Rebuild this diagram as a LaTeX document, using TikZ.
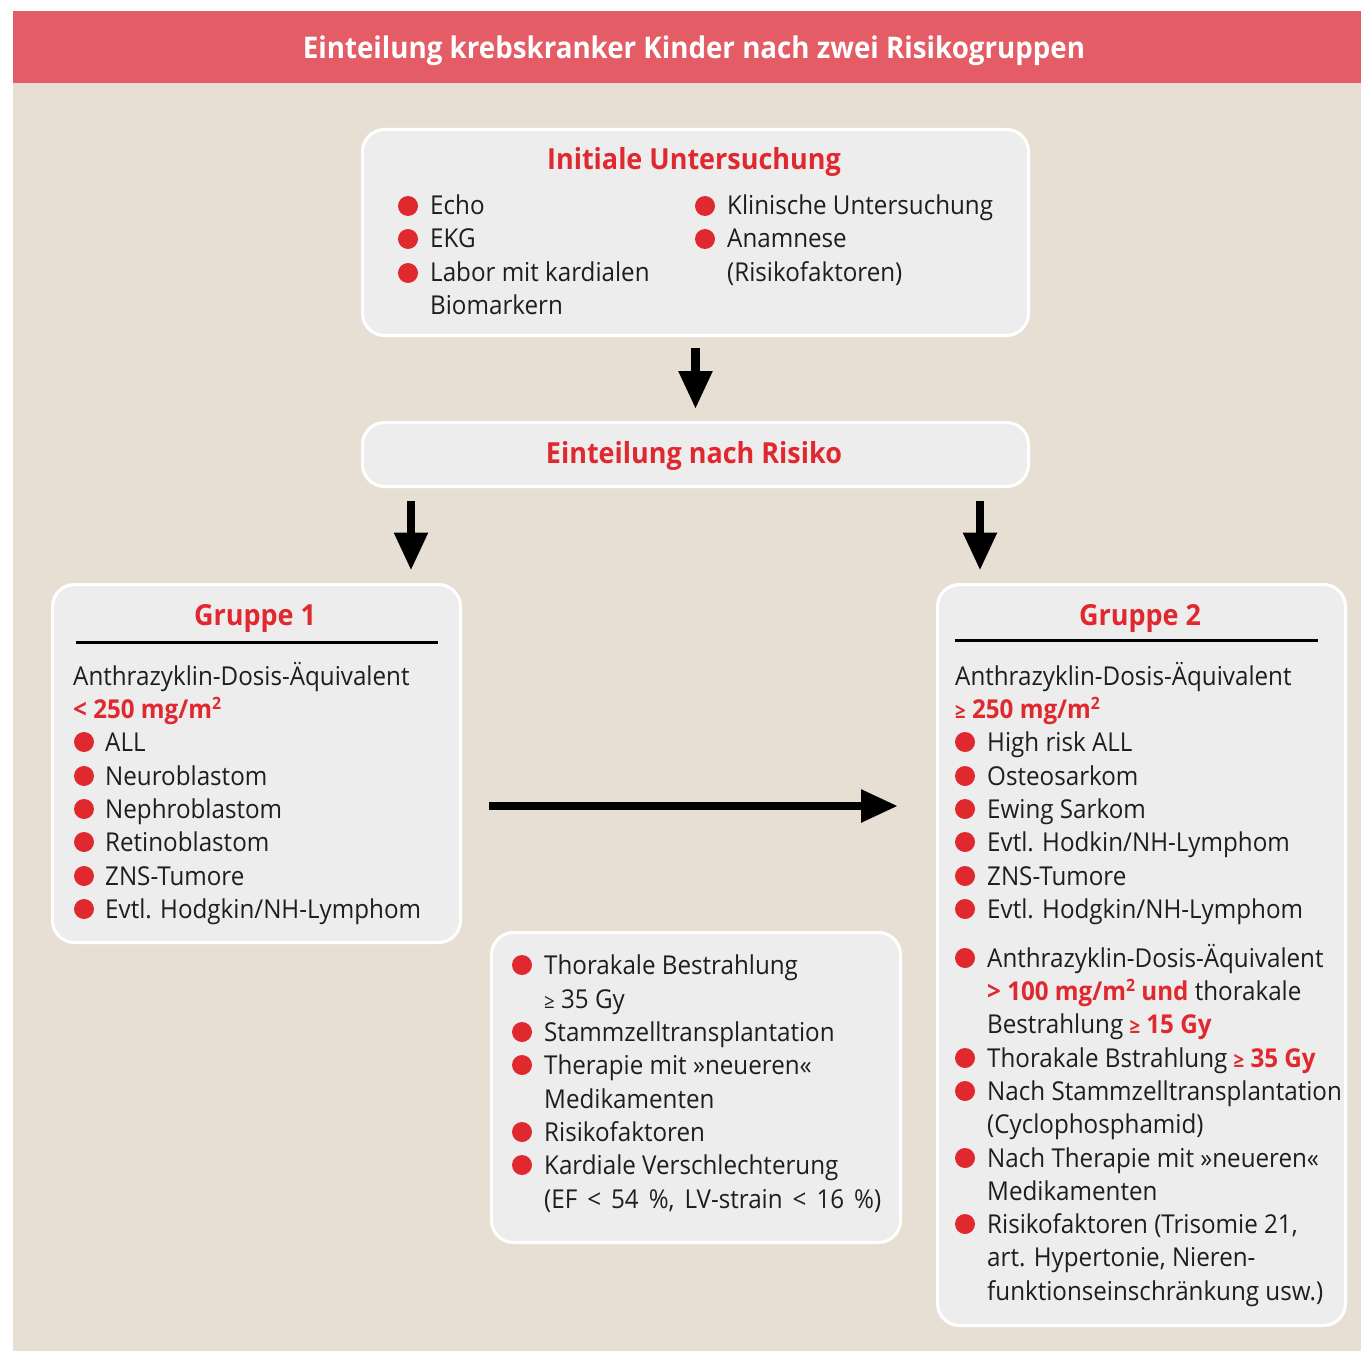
\documentclass[tikz,border=0pt]{standalone}
\usepackage{fontspec}
\setmainfont[FakeStretch=0.93]{Open Sans}
\usetikzlibrary{arrows.meta}
\definecolor{hdr}{HTML}{E35C66}
\definecolor{bg}{HTML}{E8DFD4}
\definecolor{boxf}{HTML}{EDEDED}
\definecolor{rd}{HTML}{E0282F}
\definecolor{tx}{HTML}{1E1E1E}
\tikzset{
  panel/.style={draw=white, line width=3pt, fill=boxf, rounded corners=22pt, inner sep=0pt, anchor=north west},
  txt/.style={anchor=base west, inner sep=0pt, font=\fontsize{26}{30}\selectfont, text=tx},
  ttl/.style={anchor=base, inner sep=0pt, font=\fontsize{29}{34}\selectfont\bfseries, text=rd},
  bul/.style={circle, fill=rd, minimum size=20pt, inner sep=0pt},
  arr/.style={line width=8.5pt, -{Triangle[length=38pt, width=32pt]}},
  rule/.style={line width=3pt, black},
}
\newcommand{\rb}[1]{\textcolor{rd}{\bfseries #1}}
\newcommand{\sqr}{\raisebox{9pt}{\fontsize{17}{17}\selectfont 2}}
\newcommand{\gez}{{\fontsize{20}{20}\selectfont ≥}}
\begin{document}
\begin{tikzpicture}[x=1pt, y=-1pt]
\useasboundingbox (0,0) rectangle (1361,1351);
\fill[white] (0,0) rectangle (1361,1351);
\fill[bg] (13,83) rectangle (1361,1351);
\node[fill=hdr, minimum width=1348pt, minimum height=72pt, inner sep=0pt, anchor=north west] (banner) at (13,11) {};
\node[anchor=base, inner sep=0pt, font=\fontsize{29.8}{34}\selectfont\bfseries, text=white] (hd) at (694,59) {Einteilung krebskranker Kinder nach zwei Risikogruppen};

% panels
\node[panel, minimum width=666pt, minimum height=206pt] (init) at (361,128) {};
\node[panel, minimum width=666pt, minimum height=64pt] (risk) at (361,421) {};
\node[panel, minimum width=408pt, minimum height=358pt] (g1) at (51,583) {};
\node[panel, minimum width=408pt, minimum height=741pt] (g2) at (936,583) {};
\node[panel, minimum width=409pt, minimum height=310pt] (mid) at (490,931) {};

% titles
\node[ttl] (t1) at (694,170) {Initiale Untersuchung};
\node[ttl] (t2) at (694,463) {Einteilung nach Risiko};
\node[ttl] (t3) at (255,625) {Gruppe 1};
\node[ttl] (t4) at (1140,625) {Gruppe 2};
\draw[rule] (76,642) -- (438,642);
\draw[rule] (955,640) -- (1318,640);

% initial box
\node[bul] (ib1) at (408,206) {};
\node[bul] (ib2) at (408,239) {};
\node[bul] (ib3) at (408,273) {};
\node[txt] (il1) at (430,215) {Echo};
\node[txt] (il2) at (430,248) {EKG};
\node[txt] (il3) at (430,282) {Labor mit kardialen};
\node[txt] (il4) at (430,315) {Biomarkern};
\node[bul] (ib4) at (705,206) {};
\node[bul] (ib5) at (705,239) {};
\node[txt] (ir1) at (727,215) {Klinische Untersuchung};
\node[txt] (ir2) at (727,248) {Anamnese};
\node[txt] (ir3) at (727,282) {(Risikofaktoren)};

% Gruppe 1
\node[txt] (a1) at (73,685) {Anthrazyklin-Dosis-Äquivalent};
\node[txt] (a2) at (73,718) {\rb{< 250 mg/m\sqr}};
\foreach \y/\t [count=\i] in {742/{ALL}, 776/{Neuroblastom}, 809/{Nephroblastom}, 842/{Retinoblastom}, 876/{ZNS-Tumore}, 909/{Evtl. Hodgkin/NH-Lymphom}}{
  \node[bul] (gb\i) at (84,\y) {};
  \node[txt] (gt\i) at (105,\y+9) {\t};
}

% Gruppe 2
\node[txt] (c1) at (955,685) {Anthrazyklin-Dosis-Äquivalent};
\node[txt] (c2) at (955,718) {\rb{\gez\ 250 mg/m\sqr}};
\foreach \y/\t [count=\i] in {742/{High risk ALL}, 776/{Osteosarkom}, 809/{Ewing Sarkom}, 842/{Evtl. Hodkin/NH-Lymphom}, 876/{ZNS-Tumore}, 909/{Evtl. Hodgkin/NH-Lymphom}}{
  \node[bul] (hb\i) at (965,\y) {};
  \node[txt] (ht\i) at (987,\y+9) {\t};
}
\node[bul] (hb7) at (965,958) {};
\node[txt] (hx1) at (987,967) {Anthrazyklin-Dosis-Äquivalent};
\node[txt] (hx2) at (987,1000) {\rb{> 100 mg/m\sqr\ und} thorakale};
\node[txt] (hx3) at (987,1033) {Bestrahlung \rb{\gez\ 15 Gy}};
\node[bul] (hb8) at (965,1058) {};
\node[txt] (hx4) at (987,1067) {Thorakale Bstrahlung \rb{\gez\ 35 Gy}};
\node[bul] (hb9) at (965,1091) {};
\node[txt] (hx5) at (987,1100) {Nach Stammzelltransplantation};
\node[txt] (hx6) at (987,1133) {(Cyclophosphamid)};
\node[bul] (hb10) at (965,1158) {};
\node[txt] (hx7) at (987,1167) {Nach Therapie mit »neueren«};
\node[txt] (hx8) at (987,1200) {Medikamenten};
\node[bul] (hb11) at (965,1224) {};
\node[txt] (hx9) at (987,1233) {Risikofaktoren (Trisomie 21,};
\node[txt] (hx10) at (987,1266) {art. Hypertonie, Nieren-};
\node[txt] (hx11) at (987,1300) {funktionseinschränkung usw.)};

% middle box
\node[bul] (mb1) at (522,965) {};
\node[txt] (m1) at (544,974) {Thorakale Bestrahlung};
\node[txt] (m2) at (544,1008) {\gez\ 35 Gy};
\node[bul] (mb2) at (522,1032) {};
\node[txt] (m3) at (544,1041) {Stammzelltransplantation};
\node[bul] (mb3) at (522,1065) {};
\node[txt] (m4) at (544,1074) {Therapie mit »neueren«};
\node[txt] (m5) at (544,1108) {Medikamenten};
\node[bul] (mb4) at (522,1132) {};
\node[txt] (m6) at (544,1141) {Risikofaktoren};
\node[bul] (mb5) at (522,1165) {};
\node[txt] (m7) at (544,1174) {Kardiale Verschlechterung};
\node[txt] (m8) at (544,1208) {\spaceskip=10pt (EF < 54 \%, LV-strain < 16 \%)};

% arrows
\draw[arr] ([yshift=-11pt]init.south) -- ([yshift=12pt]risk.north);
\draw[arr] ([xshift=-284.5pt, yshift=-13pt]risk.south) -- ([xshift=154.5pt, yshift=12.5pt]g1.north);
\draw[arr] ([xshift=284.5pt, yshift=-13pt]risk.south) -- ([xshift=-161.5pt, yshift=12.5pt]g2.north);
\coordinate (hs) at (489,806);
\coordinate (he) at (898,806);
\draw[arr, -{Triangle[length=37pt, width=31pt]}] (hs) -- (he);
\end{tikzpicture}
\end{document}
